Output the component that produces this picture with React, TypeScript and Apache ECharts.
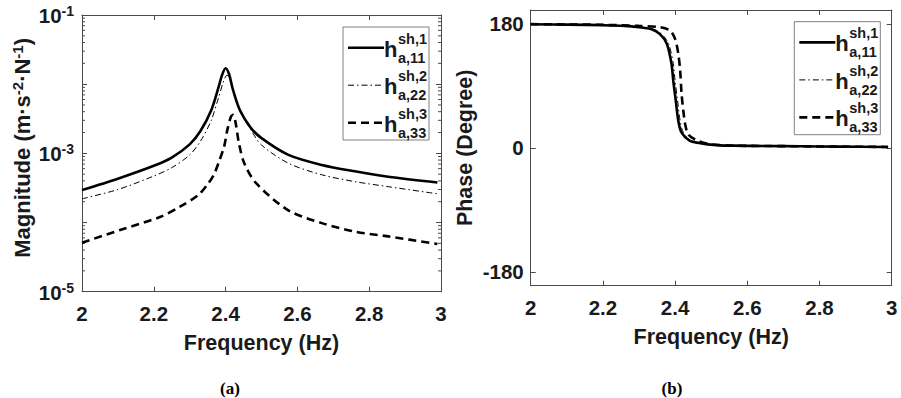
import React, { useEffect, useRef } from "react";
import * as echarts from "echarts";

// ---- Frequency axis ----
const FREQ_MIN = 2;
const FREQ_MAX = 3;
const FREQ_STEP = 0.2;

// ---- Magnitude of the three FRFs (m·s^-2·N^-1) ----
const magFreq11 = [2.0, 2.1, 2.2, 2.25, 2.3, 2.33, 2.36, 2.38, 2.39, 2.4, 2.41, 2.42, 2.44, 2.47, 2.5, 2.575, 2.668, 2.76, 2.853, 2.99];
const mag11 = [2.95e-4, 4.3e-4, 6.6e-4, 8.7e-4, 1.35e-3, 2.1e-3, 4.2e-3, 8.9e-3, 1.35e-2, 1.7e-2, 1.38e-2, 8.5e-3, 4.2e-3, 2.35e-3, 1.66e-3, 9.5e-4, 6.8e-4, 5.5e-4, 4.6e-4, 3.8e-4];

const magFreq22 = [2.0, 2.1, 2.2, 2.25, 2.3, 2.33, 2.36, 2.38, 2.395, 2.404, 2.413, 2.425, 2.44, 2.47, 2.5, 2.575, 2.668, 2.76, 2.853, 2.99];
const mag22 = [2.2e-4, 3.0e-4, 4.7e-4, 6.2e-4, 9.5e-4, 1.5e-3, 3.0e-3, 6.3e-3, 1.12e-2, 1.35e-2, 1.12e-2, 6.8e-3, 4.0e-3, 2.2e-3, 1.32e-3, 7.2e-4, 4.9e-4, 3.9e-4, 3.3e-4, 2.6e-4];

const magFreq33 = [2.0, 2.106, 2.217, 2.273, 2.324, 2.352, 2.368, 2.38, 2.396, 2.405, 2.415, 2.421, 2.428, 2.437, 2.452, 2.485, 2.575, 2.668, 2.76, 2.853, 2.99];
const mag33 = [5.1e-5, 7.8e-5, 1.2e-4, 1.7e-4, 2.5e-4, 3.7e-4, 5.0e-4, 7.2e-4, 1.26e-3, 2.2e-3, 3.4e-3, 3.6e-3, 2.75e-3, 1.41e-3, 7.2e-4, 3.7e-4, 1.5e-4, 9.8e-5, 7.4e-5, 6.3e-5, 4.9e-5];

// ---- Phase of the three FRFs (degree) ----
const phaseFreq11 = [2.0, 2.1, 2.2, 2.26, 2.3, 2.335, 2.358, 2.377, 2.39, 2.395, 2.402, 2.409, 2.418, 2.441, 2.468, 2.49, 2.524, 2.56, 2.65, 2.746, 2.85, 2.99];
const phase11 = [179.3, 178.8, 178, 177, 175, 172, 165, 151, 122, 97, 68, 39, 22, 10, 7, 5, 3.6, 3.2, 2.7, 2.3, 1.8, 1.3];

const phaseFreq22 = [2.0, 2.1, 2.2, 2.26, 2.3, 2.34, 2.363, 2.382, 2.395, 2.4, 2.407, 2.414, 2.423, 2.445, 2.47, 2.49, 2.524, 2.56, 2.65, 2.746, 2.85, 2.99];
const phase22 = [179.3, 178.8, 178, 177.2, 175.5, 172, 165, 151, 122, 97, 68, 39, 22, 10, 7, 5.2, 3.7, 3.2, 2.7, 2.3, 1.8, 1.3];

const phaseFreq33 = [2.0, 2.1, 2.2, 2.3, 2.358, 2.386, 2.4, 2.409, 2.414, 2.418, 2.423, 2.428, 2.437, 2.46, 2.49, 2.524, 2.56, 2.65, 2.746, 2.85, 2.99];
const phase33 = [179.5, 179, 178.5, 177, 175, 170, 158, 136, 112, 78, 53, 34, 19, 11, 6, 4, 3.2, 2.7, 2.3, 1.8, 1.3];

// ---- Tick values ----
const MAG_MIN = 1e-5;
const MAG_MAX = 1e-1;
const magLabelExponents = [-1, -3, -5];
const magMinorTicks = [
  2e-5, 3e-5, 4e-5, 5e-5, 6e-5, 7e-5, 8e-5, 9e-5,
  2e-4, 3e-4, 4e-4, 5e-4, 6e-4, 7e-4, 8e-4, 9e-4,
  2e-3, 3e-3, 4e-3, 5e-3, 6e-3, 7e-3, 8e-3, 9e-3,
  2e-2, 3e-2, 4e-2, 5e-2, 6e-2, 7e-2, 8e-2, 9e-2,
];
const PHASE_MIN = -200;
const PHASE_MAX = 200;
const phaseTicks = [-180, 0, 180];

// ---- Legend entries: h^{sup}_{sub} ----
const legendSup = ["sh,1", "sh,2", "sh,3"];
const legendSub = ["a,11", "a,22", "a,33"];
const seriesNames = ["h11", "h22", "h33"];

const FONT = '"Liberation Sans", Arial, Helvetica, sans-serif';
const SERIF = '"Liberation Serif", "Times New Roman", serif';
const TEXT = "#1a1a1a";
const AXIS = "#4a4a4a";

const lineStyles: { type: any; width: number; dash: number[] | null }[] = [
  { type: "solid", width: 2.6, dash: null },
  { type: [6, 3, 1.5, 3], width: 1, dash: [6, 3, 1.5, 3] },
  { type: [8, 5], width: 2.6, dash: [8, 5] },
];

const pairs = (xs: number[], ys: number[]) => xs.map((x, i) => [x, ys[i]]);

const tickRich = {
  b: { fontFamily: FONT, fontWeight: "bold", fontSize: 20.5, lineHeight: 22, color: TEXT, verticalAlign: "bottom" },
  s: { fontFamily: FONT, fontWeight: "bold", fontSize: 14, lineHeight: 14, color: TEXT, verticalAlign: "top", padding: [0, 0, 10, 0] },
};
const nameRich = {
  b: { fontFamily: FONT, fontWeight: "bold", fontSize: 22, lineHeight: 24, color: TEXT, verticalAlign: "bottom" },
  s: { fontFamily: FONT, fontWeight: "bold", fontSize: 15, lineHeight: 15, color: TEXT, verticalAlign: "top", padding: [0, 0, 10, 0] },
};

const tickStyle = { inside: true, length: 5, lineStyle: { color: AXIS, width: 1 } };
const lineAxis = { lineStyle: { color: AXIS, width: 1 } };
const labelStyle = { fontFamily: FONT, fontWeight: "bold" as const, fontSize: 20.5, color: TEXT };
const nameStyle = { fontFamily: FONT, fontWeight: "bold" as const, fontSize: 21.5, color: TEXT };

function freqAxis(gridIndex: number, top: boolean) {
  return {
    type: "value",
    gridIndex,
    position: top ? "top" : "bottom",
    min: FREQ_MIN,
    max: FREQ_MAX,
    interval: FREQ_STEP,
    axisLine: { show: true, onZero: false, ...lineAxis },
    axisTick: tickStyle,
    axisLabel: top ? { show: false } : { ...labelStyle, margin: 11 },
    splitLine: { show: false },
    name: top ? "" : "Frequency (Hz)",
    nameLocation: "middle",
    nameGap: 40,
    nameTextStyle: nameStyle,
  };
}

function magAxis(right: boolean) {
  return {
    type: "log",
    logBase: 10,
    gridIndex: 0,
    position: right ? "right" : "left",
    min: MAG_MIN,
    max: MAG_MAX,
    axisLine: { show: true, onZero: false, ...lineAxis },
    axisTick: tickStyle,
    splitLine: { show: false },
    axisLabel: right
      ? { show: false }
      : {
          margin: 8,
          formatter: (v: number) => {
            const e = Math.round(Math.log10(v));
            return magLabelExponents.includes(e) ? `{b|10}{s|${e}}` : "";
          },
          rich: tickRich,
        },
    name: right ? "" : "{b|Magnitude (m·s}{s|-2}{b|·N}{s|-1}{b|)}",
    nameLocation: "middle",
    nameGap: 47,
    nameTextStyle: { rich: nameRich, padding: [0, 0, 0, 11] },
  };
}

function phaseAxis(right: boolean) {
  return {
    type: "value",
    gridIndex: 1,
    position: right ? "right" : "left",
    min: PHASE_MIN,
    max: PHASE_MAX,
    axisLine: { show: true, onZero: false, ...lineAxis },
    axisTick: { ...tickStyle, customValues: phaseTicks },
    splitLine: { show: false },
    axisLabel: right ? { show: false } : { ...labelStyle, margin: 7, customValues: phaseTicks },
    name: right ? "" : "Phase (Degree)",
    nameLocation: "middle",
    nameGap: 55,
    nameTextStyle: nameStyle,
  };
}

function legendGroup(x: number, y: number) {
  const children: any[] = [
    { type: "rect", shape: { x: 0, y: 0, width: 86, height: 113 }, style: { fill: "#fff", stroke: "#808080", lineWidth: 1 } },
  ];
  legendSup.forEach((sup, i) => {
    const ly = 20.7 + i * 37.5;
    const ls = lineStyles[i];
    children.push({
      type: "line",
      shape: { x1: 5, y1: ly, x2: 41, y2: ly },
      style: { stroke: "#000", lineWidth: ls.width, lineDash: ls.dash || undefined },
    });
    children.push({
      type: "text",
      x: 41,
      y: ly + 1.5,
      style: { text: "h", font: `bold 22px ${FONT}`, fill: TEXT, textVerticalAlign: "middle" },
    });
    children.push({
      type: "text",
      x: 55,
      y: ly - 9,
      style: { text: sup, font: `bold 14.5px ${FONT}`, fill: TEXT, textVerticalAlign: "middle" },
    });
    children.push({
      type: "text",
      x: 55,
      y: ly + 10,
      style: { text: legendSub[i], font: `bold 14.5px ${FONT}`, fill: TEXT, textVerticalAlign: "middle" },
    });
  });
  return { type: "group", x, y, children };
}

const magData = [pairs(magFreq11, mag11), pairs(magFreq22, mag22), pairs(magFreq33, mag33)];
const phaseData = [pairs(phaseFreq11, phase11), pairs(phaseFreq22, phase22), pairs(phaseFreq33, phase33)];

const option: any = {
  animation: false,
  backgroundColor: "#fff",
  grid: [
    { left: 82, top: 15, width: 359, height: 276.7 },
    { left: 530.7, top: 10, width: 361, height: 275.7 },
  ],
  xAxis: [freqAxis(0, false), freqAxis(0, true), freqAxis(1, false), freqAxis(1, true)],
  yAxis: [magAxis(false), magAxis(true), phaseAxis(false), phaseAxis(true)],
  series: [
    ...magData.map((d, i) => ({
      name: seriesNames[i],
      type: "line",
      xAxisIndex: 0,
      yAxisIndex: 0,
      data: d,
      showSymbol: false,
      symbol: "none",
      smooth: 0.3,
      lineStyle: { color: "#000", width: lineStyles[i].width, type: lineStyles[i].type },
      z: 3,
    })),
    {
      type: "custom",
      xAxisIndex: 0,
      yAxisIndex: 0,
      silent: true,
      clip: false,
      data: magMinorTicks.map((v) => [FREQ_MIN, v]),
      renderItem: (_p: any, api: any) => {
        const v = api.value(1);
        const l = api.coord([FREQ_MIN, v]);
        const r = api.coord([FREQ_MAX, v]);
        const st = { stroke: AXIS, lineWidth: 1 };
        return {
          type: "group",
          children: [
            { type: "line", shape: { x1: l[0], y1: l[1], x2: l[0] + 3, y2: l[1] }, style: st },
            { type: "line", shape: { x1: r[0], y1: r[1], x2: r[0] - 3, y2: r[1] }, style: st },
          ],
        };
      },
    },
    ...phaseData.map((d, i) => ({
      name: seriesNames[i],
      type: "line",
      xAxisIndex: 2,
      yAxisIndex: 2,
      data: d,
      showSymbol: false,
      symbol: "none",
      smooth: 0.3,
      lineStyle: { color: "#000", width: lineStyles[i].width, type: lineStyles[i].type },
      z: 3,
    })),
  ],
  graphic: [
    legendGroup(343, 27),
    legendGroup(794.3, 21.7),
    { type: "text", x: 230, y: 397, style: { text: "(a)", font: `bold 17px ${SERIF}`, fill: "#000", textAlign: "center", textVerticalAlign: "bottom" } },
    { type: "text", x: 672, y: 397, style: { text: "(b)", font: `bold 17px ${SERIF}`, fill: "#000", textAlign: "center", textVerticalAlign: "bottom" } },
  ],
};

export default function App() {
  const ref = useRef<HTMLDivElement>(null);
  useEffect(() => {
    const chart = echarts.init(ref.current!, null, { renderer: "svg" });
    chart.setOption(option);
    return () => chart.dispose();
  }, []);
  return (
    <div
      ref={ref}
      style={{ position: "fixed", left: 0, top: 0, width: 901, height: 398, background: "#fff" }}
    />
  );
}
